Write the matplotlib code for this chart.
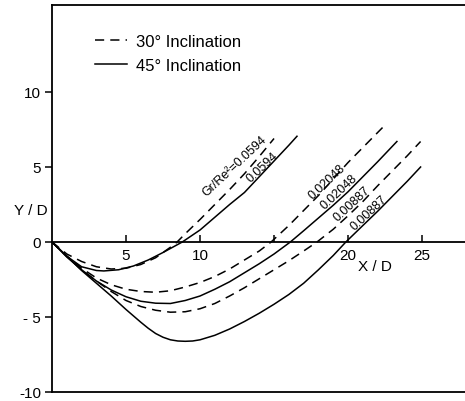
import matplotlib
matplotlib.use('Agg')
import matplotlib.pyplot as plt

plt.rcParams['font.family'] = ['Liberation Sans', 'DejaVu Sans']

# Gr/Re^2 = 0.0594
x_a30 = [0, 1, 2, 3, 4, 5, 6, 7, 8, 8.45, 9, 10, 11, 12, 13, 14, 15]
y_a30 = [0, -0.8, -1.3, -1.65, -1.8, -1.75, -1.5, -1.05, -0.35, 0, 0.55, 1.5, 2.5, 3.5, 4.55, 5.7, 6.9]
x_a45 = [0, 1, 2, 3, 3.5, 4.5, 5.5, 6.5, 7.5, 8.8, 10, 11, 12, 13, 14, 15, 16, 16.55]
y_a45 = [0, -0.95, -1.65, -1.9, -1.93, -1.85, -1.6, -1.2, -0.7, 0, 0.8, 1.65, 2.5, 3.3, 4.35, 5.4, 6.45, 7.05]

# Gr/Re^2 = 0.02048
x_b30 = [0, 1, 2, 3, 4, 5, 6, 7, 8, 9, 10, 11, 12, 13, 14, 14.8, 16, 18, 20, 22.4]
y_b30 = [0, -0.95, -1.75, -2.4, -2.85, -3.15, -3.3, -3.35, -3.25, -3.0, -2.7, -2.3, -1.8, -1.2, -0.6, 0, 1.1, 3.1, 5.3, 7.7]
x_b45 = [0, 1, 2, 3, 4, 5, 6, 7, 8, 9, 10, 11, 12, 13, 14, 15, 16.1, 17, 18, 19, 20, 21, 22, 23.3]
y_b45 = [0, -1.0, -1.85, -2.6, -3.2, -3.65, -3.95, -4.08, -4.1, -3.9, -3.6, -3.15, -2.65, -2.05, -1.45, -0.8, 0, 0.75, 1.6, 2.45, 3.35, 4.35, 5.35, 6.7]

# Gr/Re^2 = 0.00887
x_c30 = [0, 1, 2, 3, 4, 5, 6, 7, 8, 9, 10, 11, 12, 13, 14, 15, 16, 17, 17.9, 19, 20, 21, 22, 23, 24, 24.9]
y_c30 = [0, -0.95, -1.85, -2.6, -3.3, -3.9, -4.3, -4.55, -4.68, -4.65, -4.45, -4.1, -3.6, -3.05, -2.45, -1.85, -1.25, -0.6, 0, 0.85, 1.75, 2.7, 3.75, 4.75, 5.75, 6.7]
x_c45 = [0, 1, 2, 3, 4, 5, 6, 6.5, 7, 7.5, 8, 8.5, 9, 9.5, 10, 11, 12, 13, 14, 15, 16, 17, 18, 19, 19.85, 21, 22, 23, 24, 24.9]
y_c45 = [0, -0.95, -1.9, -2.75, -3.6, -4.5, -5.35, -5.75, -6.1, -6.35, -6.52, -6.6, -6.62, -6.6, -6.52, -6.22, -5.8, -5.3, -4.75, -4.15, -3.5, -2.75, -1.85, -0.9, 0, 1.1, 2.05, 3.05, 4.05, 5.0]

fig = plt.figure(figsize=(4.65, 4.02), dpi=100)
ax = fig.add_axes([52 / 465, 9 / 402, 413 / 465, 387 / 402])

lw = 1.1
dash = (6, 4)
l30, = ax.plot(x_a30, y_a30, color='black', lw=lw, dashes=dash, label='30° Inclination')
l45, = ax.plot(x_a45, y_a45, color='black', lw=lw, label='45° Inclination')
ax.plot(x_b30, y_b30, color='black', lw=lw, dashes=dash)
ax.plot(x_b45, y_b45, color='black', lw=lw)
ax.plot(x_c30, y_c30, color='black', lw=lw, dashes=dash)
ax.plot(x_c45, y_c45, color='black', lw=lw)

ax.set_xlim(0, 27.9)
ax.set_ylim(-10, 15.8)

ax.spines['right'].set_visible(False)
ax.spines['bottom'].set_position(('data', 0))
for s in ['left', 'top', 'bottom']:
    ax.spines[s].set_linewidth(1.3)
ax.axhline(-10, color='black', lw=1.3, clip_on=False)

ax.set_xticks([5, 10, 15, 20, 25])
ax.set_xticklabels(['5', '10', '', '20', '25'])
ax.set_yticks([-10, -5, 0, 5, 10])
ax.set_yticklabels(['-10', '- 5', '0', '5', '10'])
ax.tick_params(axis='x', direction='in', length=5, width=1.1, pad=4, labelsize=11)
ax.tick_params(axis='y', direction='out', length=5, width=1.1, pad=3, labelsize=11)

ax.text(21.8, -1.6, 'X / D', fontsize=11, ha='center', va='center')
ax.text(-1.42, 2.13, 'Y / D', fontsize=11, ha='center', va='center', clip_on=False)

# curve labels
lab = dict(fontsize=9, rotation=43, rotation_mode='anchor', ha='center', va='center')
ax.text(12.35, 5.1, 'Gr/Re²=0.0594', **lab)
ax.text(14.25, 5.0, '0.0594', **lab)
ax.text(18.55, 4.05, '0.02048', **lab)
ax.text(19.4, 3.35, '0.02048', **lab)
ax.text(20.25, 2.6, '0.00887', **lab)
ax.text(21.4, 1.95, '0.00887', **lab)

ax.legend(handles=[l30, l45], loc='upper left', bbox_to_anchor=(0.105, 0.925),
          frameon=False, fontsize=12, handlelength=1.9, handletextpad=0.55,
          labelspacing=0.55, borderpad=0, borderaxespad=0)

fig.savefig('out.png', dpi=100, facecolor='white')
